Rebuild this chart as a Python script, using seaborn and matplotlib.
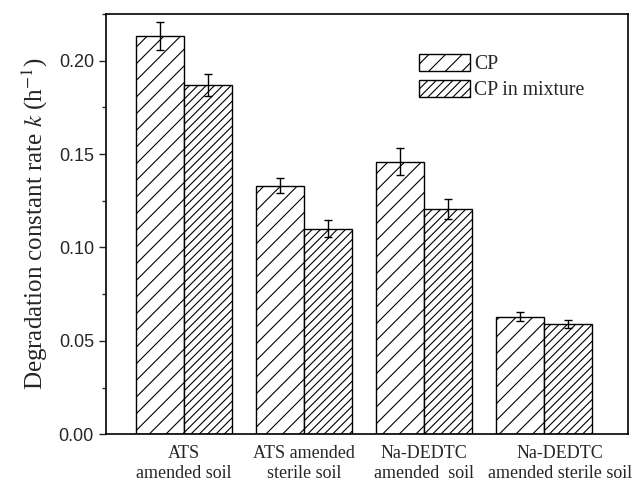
import matplotlib
matplotlib.use("Agg")
import matplotlib.pyplot as plt
import matplotlib.transforms as mtransforms
from matplotlib.patches import Patch
from matplotlib.ticker import MultipleLocator
import seaborn as sns
import pandas as pd
import numpy as np

categories = ["ATS\namended soil", "ATS amended\nsterile soil",
              "Na-DEDTC\namended  soil", "Na-DEDTC\namended sterile soil"]
series = ["CP", "CP in mixture"]
cp_values = [0.213, 0.133, 0.146, 0.063]
mix_values = [0.187, 0.110, 0.1205, 0.059]
cp_err = [0.0075, 0.004, 0.007, 0.0025]
mix_err = [0.006, 0.0045, 0.0055, 0.002]
yticks = [0.00, 0.05, 0.10, 0.15, 0.20]

df = pd.DataFrame({
    "cat": categories * 2,
    "series": [series[0]] * 4 + [series[1]] * 4,
    "k": cp_values + mix_values,
    "err": cp_err + mix_err,
})

sns.set_style("ticks")
plt.rcParams["hatch.linewidth"] = 0.8
plt.rcParams["mathtext.fontset"] = "stix"
fig, ax = plt.subplots(figsize=(6.37, 4.83), dpi=100)
fig.subplots_adjust(left=0.166, right=0.986, top=0.971, bottom=0.101)

sns.barplot(data=df, x="cat", y="k", hue="series", order=categories,
            hue_order=series, palette=["white", "white"], edgecolor="black",
            linewidth=1.0, errorbar=None, width=0.8, ax=ax, legend=False)

hatches = ["//", "////"]
patches = [p for p in ax.patches]
# first 4 patches are CP, next 4 are mixture
for i, p in enumerate(patches[:8]):
    p.set_hatch(hatches[i // 4])
    p.set_facecolor("white")
    p.set_edgecolor("black")

xs = [p.get_x() + p.get_width() / 2 for p in patches[:8]]
ys = [p.get_height() for p in patches[:8]]
errs = cp_err + mix_err
ax.errorbar(xs, ys, yerr=errs, fmt="none", ecolor="black", elinewidth=1.0,
            capsize=3, capthick=1.0, zorder=5)

ax.set_ylim(0, 0.225)
ax.set_xlim(-0.65, 3.7)
ax.set_yticks(yticks)
ax.set_yticklabels([f"{v:.2f}" for v in yticks], family="Liberation Sans", fontsize=13)
ax.yaxis.set_minor_locator(MultipleLocator(0.025))
ax.tick_params(axis="y", which="major", direction="out", length=5, width=1)
ax.tick_params(axis="y", which="minor", direction="out", length=3, width=1)
ax.tick_params(axis="x", length=0, pad=8)
xlabs = ax.get_xticklabels()
for lab in xlabs:
    lab.set_family("Liberation Serif")
    lab.set_fontsize(13)
    lab.set_linespacing(1.2)
shift = mtransforms.ScaledTranslation(0.16, 0, fig.dpi_scale_trans)
xlabs[-1].set_transform(xlabs[-1].get_transform() + shift)
ax.set_xlabel("")
ax.set_ylabel("Degradation constant rate $k$ (h$^{-1}$)", family="Liberation Serif",
              fontsize=18, labelpad=6)

for s in ax.spines.values():
    s.set_visible(True)
    s.set_linewidth(1.2)
    s.set_color("black")

handles = [Patch(facecolor="white", edgecolor="black", hatch=h, label=l)
           for h, l in zip(hatches, series)]
ax.legend(handles=handles, loc="upper left", bbox_to_anchor=(0.585, 0.924),
          frameon=False, prop={"family": "Liberation Serif", "size": 14.2},
          handlelength=2.6, handleheight=0.95, handletextpad=0.2,
          labelspacing=0.3, borderaxespad=0)

fig.savefig("out.png", dpi=100)
